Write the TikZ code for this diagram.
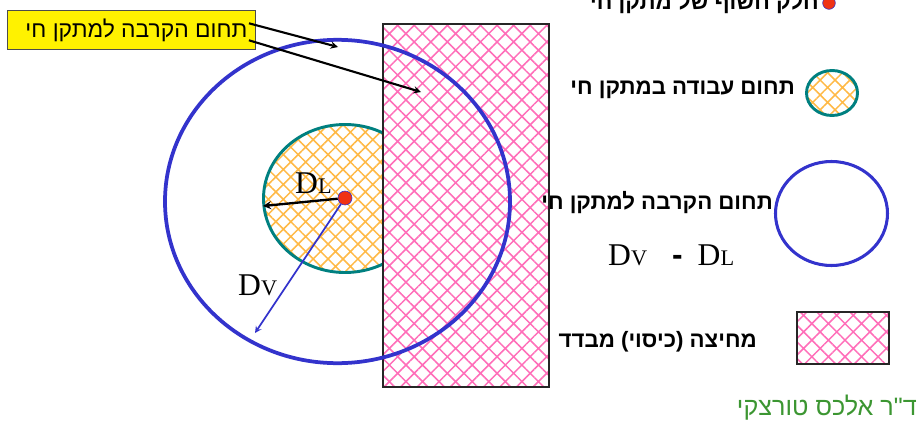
\documentclass[tikz,border=0pt]{standalone}
\usepackage{fontspec}
\setmainfont{Liberation Serif}
\newfontfamily\hebfont[Script=Hebrew]{Liberation Sans}
\TeXXeTstate=1
\usetikzlibrary{arrows,shapes.geometric,patterns.meta,positioning}

\definecolor{zoneblue}{RGB}{51,51,204}
\definecolor{zoneteal}{RGB}{0,128,128}
\definecolor{hatchpink}{RGB}{255,110,185}
\definecolor{hatchorange}{RGB}{255,185,70}
\definecolor{signgreen}{RGB}{60,150,50}
\definecolor{coredot}{RGB}{240,50,20}

\newcommand{\heb}[1]{\hebfont\beginR #1\endR}
\newcommand{\subcap}[1]{{\fontsize{19}{20}\selectfont #1}}

\begin{document}
\begin{tikzpicture}[
        x=0.03cm, y=-0.03cm,
        workzone/.style={ellipse, inner sep=0pt, draw=zoneteal, line width=2.5pt,
            pattern={Hatch[angle=45, distance=9pt, line width=1.3pt]}, pattern color=hatchorange},
        nearzone/.style={ellipse, inner sep=0pt, draw=zoneblue, line width=3.2pt},
        barrier/.style={rectangle, inner sep=0pt, draw=black!85, line width=1pt, preaction={fill=white},
            pattern={Hatch[angle=45, distance=10pt, line width=1.3pt]}, pattern color=hatchpink},
        coredot/.style={circle, inner sep=0pt, minimum size=0.42cm, fill=coredot, draw=zoneblue, line width=0.5pt},
        dimtext/.style={inner sep=0pt, font=\fontsize{27}{30}\selectfont},
        legtext/.style={inner sep=0pt, font=\fontsize{19}{22}\selectfont\bfseries},
        callout/.style={draw=black!70, fill=yellow, line width=0.8pt, inner sep=0pt,
            minimum width=7.44cm, minimum height=1.17cm, font=\fontsize{19.5}{22}\selectfont},
        callarrow/.style={-stealth, line width=1.8pt},
        dimline/.style={-stealth, line width=2pt},
        dvline/.style={-stealth, line width=1.5pt, draw=zoneblue, fill=zoneblue}
    ]
    \useasboundingbox (0,0) rectangle (920,423);

    % zones round the live equipment
    \node[workzone, minimum width=4.89cm, minimum height=4.44cm] (work) at (345,198.5) {};
    \node[barrier, minimum width=4.98cm, minimum height=10.89cm] (wall) at (466,205.5) {};
    \node[nearzone, minimum width=10.35cm, minimum height=9.7cm] (near) at (337.5,201.5) {};
    \node[coredot] (live) at (345,198) {};

    % distances
    \coordinate (dlend) at (263,206);
    \coordinate (dvend) at (255,333);
    \draw[dimline] (live) -- (dlend);
    \draw[dvline] (live) -- (dvend);
    \node[dimtext, anchor=base west] (dl) at (295,193) {D\subcap{L}};
    \node[dimtext, anchor=base west] (dv) at (238,295) {D\subcap{V}};

    % callout
    \node[callout, anchor=north west] (tag) at (7,10) {\hspace{0.3cm}\heb{תחום הקרבה למתקן חי}};
    \coordinate (tip1) at (338,47);
    \coordinate (tip2) at (421,92);
    \draw[callarrow] ([xshift=-0.21cm, yshift=0.2cm]tag.east) -- (tip1);
    \draw[callarrow] ([xshift=-0.21cm, yshift=-0.31cm]tag.east) -- (tip2);

    % legend
    \node[coredot, minimum size=0.38cm] (legdot) at (829,3) {};
    \node[legtext, anchor=east] (legdottext) at (819,3) {\heb{חלק חשוף של מתקן חי}};
    \node[workzone, minimum width=1.53cm, minimum height=1.35cm] (legwork) at (832,93) {};
    \node[legtext, anchor=east] (legworktext) at (795,90) {\heb{תחום עבודה במתקן חי}};
    \node[nearzone, line width=2.6pt, minimum width=3.36cm, minimum height=3.12cm] (legnear) at (831.5,213.5) {};
    \node[legtext, anchor=east] (legneartext) at (773,203) {\heb{תחום הקרבה למתקן חי}};
    \node[dimtext, anchor=base west] (formula) at (608,265)
        {D\subcap{V}\hspace{0.75cm}{\hebfont\bfseries -}\hspace{0.45cm}D\subcap{L}};
    \node[barrier, minimum width=2.76cm, minimum height=1.56cm] (legwall) at (843,338) {};
    \node[legtext, anchor=east] (legwalltext) at (757,342) {\heb{מחיצה (כיסוי) מבדד}};

    % signature
    \node[inner sep=0pt, anchor=east, text=signgreen, font=\fontsize{21.5}{24}\selectfont] (sign) at (917,408)
        {\heb{ד"ר אלכס טורצקי}};
\end{tikzpicture}
\end{document}
